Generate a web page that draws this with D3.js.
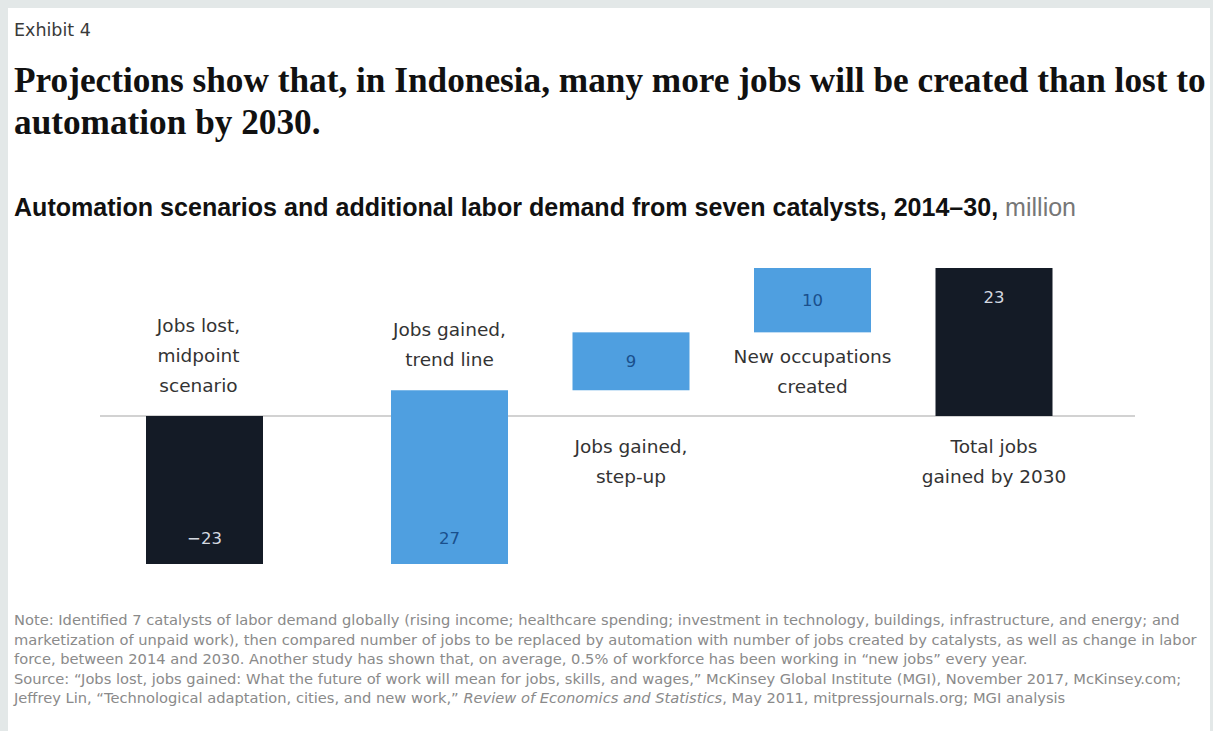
<!DOCTYPE html>
<html>
<head>
<meta charset="utf-8">
<script src="https://cdn.jsdelivr.net/npm/d3@7"></script>
<style>
  html, body { margin: 0; padding: 0; background: #e3e8e8; }
  svg { display: block; }
</style>
</head>
<body>
<svg id="chart" width="1213" height="731"></svg>
<script>
// data
const categories = [
  ["Jobs lost,", "midpoint", "scenario"],
  ["Jobs gained,", "trend line"],
  ["Jobs gained,", "step-up"],
  ["New occupations", "created"],
  ["Total jobs", "gained by 2030"]
];
const values = [-23, 27, 9, 10, 23];
const isTotal = [false, false, false, false, true];
const labelPlace = ["above", "above", "belowAxis", "below", "belowAxis"];

const exhibit = "Exhibit 4";
const titleLines = [
  "Projections show that, in Indonesia, many more jobs will be created than lost to",
  "automation by 2030."
];
const subtitle = "Automation scenarios and additional labor demand from seven catalysts, 2014\u201330,";
const unit = " million";
const notes = [
  [["Note: Identified 7 catalysts of labor demand globally (rising income; healthcare spending; investment in technology, buildings, infrastructure, and energy; and", false]],
  [["marketization of unpaid work), then compared number of jobs to be replaced by automation with number of jobs created by catalysts, as well as change in labor", false]],
  [["force, between 2014 and 2030. Another study has shown that, on average, 0.5% of workforce has been working in \u201cnew jobs\u201d every year.", false]],
  [["Source: \u201cJobs lost, jobs gained: What the future of work will mean for jobs, skills, and wages,\u201d McKinsey Global Institute (MGI), November 2017, McKinsey.com;", false]],
  [["Jeffrey Lin, \u201cTechnological adaptation, cities, and new work,\u201d ", false], ["Review of Economics and Statistics", true], [", May 2011, mitpressjournals.org; MGI analysis", false]]
];

// waterfall: running start/end for each bar
let run = 0;
const bars = values.map((v, i) => {
  let start, end;
  if (isTotal[i]) { start = 0; end = v; run = v; }
  else { start = run; end = run + v; run = end; }
  return {i, v, start, end, lo: Math.min(start, end), hi: Math.max(start, end)};
});

const svg = d3.select("#chart");
const sans = "'Liberation Sans', Arial, sans-serif";
const wide = "'DejaVu Sans', sans-serif";

svg.append("rect")
  .attr("x", 8).attr("y", 8)
  .attr("width", 1202).attr("height", 731)
  .attr("fill", "#ffffff");

// fit a text element to a given width by tuning font-size
function fitWidth(sel, w) {
  const fs = parseFloat(sel.attr("font-size"));
  const len = sel.node().getComputedTextLength();
  const nfs = +(fs * w / len).toFixed(2);
  sel.attr("font-size", nfs);
  return nfs;
}

svg.append("text")
  .attr("x", 14).attr("y", 36)
  .attr("font-family", wide).attr("font-size", 17.5)
  .attr("fill", "#3a3a3a")
  .text(exhibit);

let titleFs = 29;
titleLines.forEach((t, k) => {
  const el = svg.append("text")
    .attr("x", 14).attr("y", 92 + k * 42)
    .attr("font-family", "'Liberation Serif', 'DejaVu Serif', serif")
    .attr("font-weight", "bold")
    .attr("font-size", titleFs)
    .attr("fill", "#111")
    .text(t);
  if (k === 0) titleFs = fitWidth(el, 1192);
});

const sub = svg.append("text")
  .attr("x", 14).attr("y", 216)
  .attr("font-family", sans).attr("font-size", 19)
  .attr("fill", "#111");
sub.append("tspan").attr("font-weight", "bold").text(subtitle);
sub.append("tspan").attr("fill", "#777").text(unit);
fitWidth(sub, 1062);

// scales
const x = d3.scalePoint()
  .domain(d3.range(values.length))
  .range([268, 994]);
const firstGap = 63.5;
const cx = i => x(i) - (i === 0 ? firstGap : 0);
const barW = 117;

const y = d3.scaleLinear()
  .domain([-23, 23])
  .range([564, 268]);

// baseline
svg.append("line")
  .attr("x1", 100).attr("x2", 1135)
  .attr("y1", y(0)).attr("y2", y(0))
  .attr("stroke", "#d2d2d2").attr("stroke-width", 2);

const dark = "#141b26", blue = "#4f9fe0";

const g = svg.append("g");

g.selectAll("rect.bar")
  .data(bars)
  .join("rect")
  .attr("class", "bar")
  .attr("x", d => cx(d.i) - barW / 2)
  .attr("y", d => y(d.hi))
  .attr("width", barW)
  .attr("height", d => y(d.lo) - y(d.hi))
  .attr("fill", d => (isTotal[d.i] || d.v < 0) ? dark : blue);

// value labels
g.selectAll("text.val")
  .data(bars)
  .join("text")
  .attr("class", "val")
  .attr("x", d => cx(d.i))
  .attr("y", d => {
    const top = y(d.hi), bot = y(d.lo);
    if (bot - top < 100) return (top + bot) / 2 + 6;
    if (bot > y(0) + 1) return bot - 20;
    return top + 35;
  })
  .attr("text-anchor", "middle")
  .attr("font-family", wide).attr("font-size", 16.5)
  .attr("fill", d => (isTotal[d.i] || d.v < 0) ? "#d4d9e0" : "#1a4f8c")
  .text(d => d.v < 0 ? "\u2212" + Math.abs(d.v) : d.v);

// category labels
bars.forEach(d => {
  const lines = categories[d.i];
  const place = labelPlace[d.i];
  let y0;
  if (place === "above") y0 = y(d.hi) - 24 - (lines.length - 1) * 30;
  else if (place === "below") y0 = y(d.lo) + 31;
  else y0 = y(0) + 37;
  const t = g.append("text")
    .attr("text-anchor", "middle")
    .attr("font-family", wide).attr("font-size", 18.5)
    .attr("fill", "#333");
  lines.forEach((l, k) => {
    t.append("tspan")
      .attr("x", cx(d.i) - (d.i === 0 ? 6 : 0))
      .attr("y", y0 + k * 30)
      .text(l);
  });
});

// notes
let noteFs = 13;
notes.forEach((parts, k) => {
  const t = svg.append("text")
    .attr("x", 14).attr("y", 625 + k * 19.5)
    .attr("font-family", wide).attr("font-size", noteFs)
    .attr("fill", "#8a8a8a");
  parts.forEach(p => {
    t.append("tspan")
      .attr("font-style", p[1] ? "italic" : "normal")
      .text(p[0]);
  });
  if (k === 0) noteFs = fitWidth(t, 1166);
});
</script>
</body>
</html>
